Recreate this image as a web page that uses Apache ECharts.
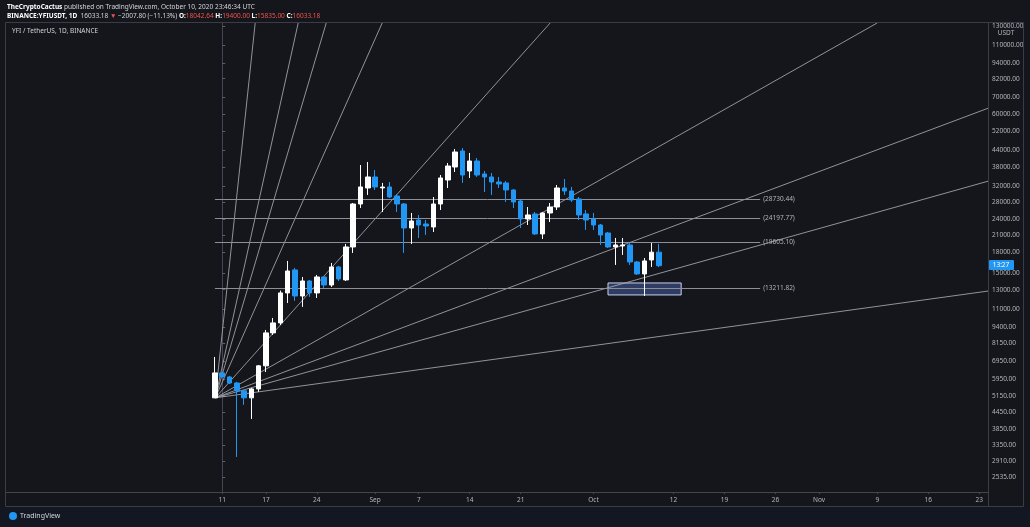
<!DOCTYPE html>
<html><head><meta charset="utf-8">
<script src="https://cdn.jsdelivr.net/npm/echarts@6/dist/echarts.min.js"></script>
<style>html,body{margin:0;padding:0;background:#131722;}#c{width:1030px;height:527px;}</style>
</head><body><div id="c"></div>
<script>
const dates = ['2020-08-10','2020-08-11','2020-08-12','2020-08-13','2020-08-14','2020-08-15','2020-08-16','2020-08-17','2020-08-18','2020-08-19','2020-08-20','2020-08-21','2020-08-22','2020-08-23','2020-08-24','2020-08-25','2020-08-26','2020-08-27','2020-08-28','2020-08-29','2020-08-30','2020-08-31',
'2020-09-01','2020-09-02','2020-09-03','2020-09-04','2020-09-05','2020-09-06','2020-09-07','2020-09-08','2020-09-09','2020-09-10','2020-09-11','2020-09-12','2020-09-13','2020-09-14','2020-09-15','2020-09-16','2020-09-17','2020-09-18','2020-09-19','2020-09-20','2020-09-21','2020-09-22','2020-09-23','2020-09-24','2020-09-25','2020-09-26','2020-09-27','2020-09-28','2020-09-29','2020-09-30',
'2020-10-01','2020-10-02','2020-10-03','2020-10-04','2020-10-05','2020-10-06','2020-10-07','2020-10-08','2020-10-09','2020-10-10'];
const opens  = [5060,6290,6070,5760,5380,5060,5470,6690,8920,9730,12640,15450,12310,14030,12640,14530,13550,15860,14160,18880,27470,31590,
34770,31600,31870,29460,27470,22280,23890,23070,22480,27470,33870,37940,43620,36630,39970,35690,34770,33280,33000,31040,28200,24100,25180,21150,25400,26760,31590,30770,28700,25180,
24100,22870,21330,18880,19050,19210,16560,14920,16860,18042.64];
const closes = [6290,6070,5760,5380,5060,5470,6690,8920,9730,12640,15310,12310,14030,12640,14530,13550,15860,14280,18880,27470,31870,34770,
31870,31850,29200,27470,22280,23690,22870,22670,27470,34470,38270,43240,35380,39970,35380,34770,33280,32710,31040,27960,24100,24960,21150,25400,26760,31590,30770,28450,24960,23890,
22870,20960,18880,19210,19210,16560,14920,16710,18040,16033.18];
const lows   = [5050,6020,5710,3020,4760,4210,5330,6340,8760,9560,11580,11790,11190,12210,12100,13200,13320,14030,14030,17920,26530,29720,
31040,25620,28950,25620,17920,19380,20420,20960,21520,26070,31590,36320,33000,34470,34770,30500,29720,31590,27960,26530,22280,22870,20960,20240,23480,26070,29720,27960,23890,21900,
21900,19210,18720,16140,17610,16140,14790,12310,15860,15835];
const highs  = [7230,6340,6130,5820,5420,5520,6740,9150,10160,12900,16710,15720,14530,14160,14790,14660,16420,16000,19380,27710,38600,39620,
36960,33000,33280,29980,27710,25400,24960,23890,29200,35380,39280,44390,44780,42870,41030,36630,36000,34770,33580,31310,28450,26760,25620,25620,27710,32420,34170,31870,29200,26070,
25400,23070,21520,20420,20420,19550,16710,17150,19550,19400];

const baseDate = '2020-08-11';
const xTickDates  = ['2020-08-11','2020-08-17','2020-08-24','2020-09-01','2020-09-07','2020-09-14','2020-09-21','2020-10-01','2020-10-12','2020-10-19','2020-10-26','2020-11-01','2020-11-09','2020-11-16','2020-11-23'];
const xTickLabels = ['11','17','24','Sep','7','14','21','Oct','12','19','26','Nov','9','16','23'];
const yTicks = [130000,110000,94000,82000,70000,60000,52000,44000,38000,32000,28000,24000,21000,18000,15000,13000,11000,9400,8150,6950,5950,5150,4450,3850,3350,2910,2535];

const fibLevels = [28730.44, 24197.77, 19605.10, 13211.82];
const fibLabels = ['(28730.44)','(24197.77)','(19605.10)','(13211.82)'];
const fibStartDay = -1, fibEndDay = 73.9;

const fanOriginDay = -0.95, fanOriginPrice = 5060;
const fanEndDays   = [4.53, 10.44, 14.29, 21.98, 45.05, 89.97, 105.3, 105.3, 105.3];
const fanEndPrices = [133280,133280,133280,133280,133280,133280,63480,33570,12860];

const boxStartDay = 53.0, boxEndDay = 63.05, boxHigh = 13790, boxLow = 12420;

const xMinDay = -29.7, xMaxDay = 105.2;
const yMinPrice = 2225, yMaxPrice = 133280;

function dayOf(s){ return (Date.parse(s) - Date.parse(baseDate)) / 864e5; }
const L = Math.log;

const candleData = dates.map((d,i)=>[dayOf(d), L(opens[i]), L(closes[i]), L(lows[i]), L(highs[i])]);
const xLabelMap = {};
xTickDates.forEach((d,i)=>{ xLabelMap[Math.round(dayOf(d))] = xTickLabels[i]; });

const FONT = 'Noto Sans';
const TXT = '#b2b5be';
const series = [{
  type:'candlestick', data:candleData, encode:{x:0,y:[1,2,3,4]}, barWidth:5, z:5,
  itemStyle:{color:'#ffffff', color0:'#2196f3', borderColor:'#ffffff', borderColor0:'#2196f3', borderWidth:1},
  silent:true
},{
  type:'line', data:[], silent:true, symbol:'none',
  markLine:{silent:true, symbol:['none','none'],
    lineStyle:{color:'#8c8f98', width:1, type:'solid'},
    label:{show:true, position:'end', distance:3, color:TXT, fontSize:6.5, fontFamily:FONT},
    data: fibLevels.map((v,i)=>[{coord:[fibStartDay, L(v)], label:{formatter:fibLabels[i]}},{coord:[fibEndDay, L(v)]}])
  },
  markArea:{silent:true,
    itemStyle:{color:'rgba(70,95,160,0.55)', borderColor:'#c9d2ee', borderWidth:1},
    data:[[{coord:[boxStartDay, L(boxHigh)]},{coord:[boxEndDay, L(boxLow)]}]]
  }
}];
fanEndDays.forEach((d,i)=>{
  series.push({type:'line', silent:true, symbol:'none', z:3, clip:true,
    lineStyle:{color:'#a6a9b2', width:1, opacity:0.85},
    data:[[fanOriginDay, L(fanOriginPrice)],[d, L(fanEndPrices[i])]]});
});

const chart = echarts.init(document.getElementById('c'));
chart.setOption({
  backgroundColor:'#15161b',
  animation:false,
  grid:{left:6, right:42, top:23, bottom:35},
  xAxis:{type:'value', min:xMinDay, max:xMaxDay,
    axisLine:{show:true, lineStyle:{color:'#434651'}},
    axisTick:{show:true, inside:false, length:2, lineStyle:{color:'#434651'}, customValues: xTickDates.map(dayOf)},
    axisLabel:{color:TXT, fontSize:6.5, fontFamily:FONT, margin:5, customValues: xTickDates.map(dayOf),
      formatter:v=>xLabelMap[Math.round(v)] || ''},
    splitLine:{show:false}},
  yAxis:{type:'value', position:'right', min:L(yMinPrice), max:L(yMaxPrice),
    axisLine:{show:true, lineStyle:{color:'#434651'}},
    axisTick:{show:true, length:3, lineStyle:{color:'#5d606b'}, customValues: yTicks.map(L)},
    axisLabel:{color:TXT, fontSize:6.5, fontFamily:FONT, margin:4, customValues: yTicks.map(L),
      formatter:v=>Math.exp(v).toFixed(2)},
    splitLine:{show:false}},
  series:series,
  graphic:[
    {type:'rect', silent:true, z:-1, shape:{x:0,y:507,width:1030,height:20}, style:{fill:'#131722'}},
    {type:'rect', silent:true, z:50, shape:{x:5.5,y:22.5,width:1018,height:484}, style:{fill:null, stroke:'#3a3d47', lineWidth:1}},
    {type:'line', silent:true, z:50, shape:{x1:988.5,y1:22,x2:988.5,y2:507}, style:{stroke:'#3a3d47', lineWidth:1}},
    {type:'rect', silent:true, z:60, shape:{x:989,y:28,width:34,height:10}, style:{fill:'#15161b'}},
    {type:'text', silent:true, z:61, x:1006, y:33, style:{text:'USDT', fill:TXT, fontSize:6.5, fontFamily:FONT, align:'center', verticalAlign:'middle'}},
    {type:'rect', silent:true, z:60, shape:{x:989,y:260,width:25,height:10, r:1}, style:{fill:'#2196f3'}},
    {type:'text', silent:true, z:61, x:1001, y:265, style:{text:'13:27', fill:'#ffffff', fontSize:6.5, fontFamily:FONT, align:'center', verticalAlign:'middle'}},
    {type:'text', silent:true, z:60, x:7, y:7, style:{text:'{b|TheCryptoCactus} published on TradingView.com, October 10, 2020 23:46:34 UTC', fill:'#d1d4dc', fontSize:6.5, fontFamily:FONT, verticalAlign:'middle',
      rich:{b:{fontWeight:'bold', fill:'#ffffff', fontSize:6.5, fontFamily:FONT}}}},
    {type:'text', silent:true, z:60, x:7, y:16, style:{text:'{b|BINANCE:YFIUSDT, 1D}  {w|16033.18} {r|▼} {w|−2007.80 (−11.13%)} {b|O:}{r|18042.64} {b|H:}{r|19400.00} {b|L:}{r|15835.00} {b|C:}{r|16033.18}', fill:'#d1d4dc', fontSize:6.5, fontFamily:FONT, verticalAlign:'middle',
      rich:{b:{fontWeight:'bold', fill:'#ffffff', fontSize:6.5, fontFamily:FONT}, w:{fill:'#d1d4dc', fontSize:6.5, fontFamily:FONT}, r:{fill:'#ef5350', fontSize:6.5, fontFamily:FONT}}}},
    {type:'text', silent:true, z:60, x:12, y:31, style:{text:'YFI / TetherUS, 1D, BINANCE', fill:'#d1d4dc', fontSize:6.5, fontFamily:FONT, verticalAlign:'middle'}},
    {type:'circle', silent:true, z:60, shape:{cx:13, cy:516, r:4}, style:{fill:'#2196f3'}},
    {type:'text', silent:true, z:60, x:20, y:516, style:{text:'TradingView', fill:'#d1d4dc', fontSize:7, fontFamily:FONT, verticalAlign:'middle'}}
  ]
});
</script></body></html>
